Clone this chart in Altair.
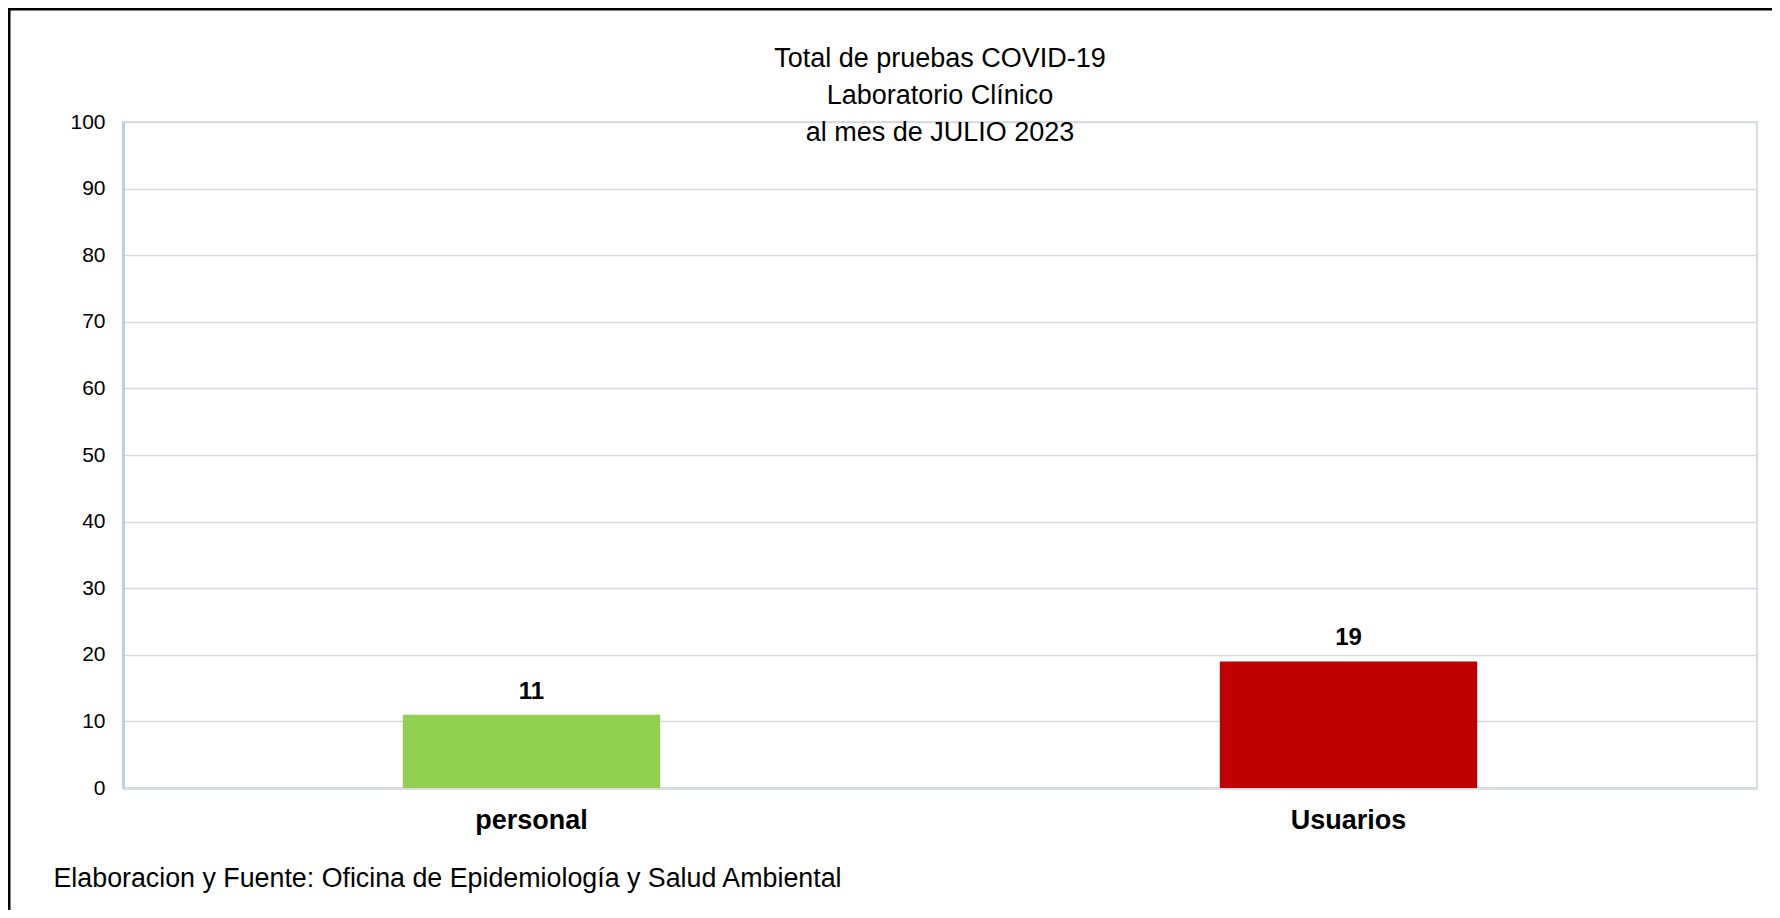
import altair as alt
import pandas as pd

categories = ["personal", "Usuarios"]
values = [11, 19]
colors = ["#92D050", "#C00000"]
y_ticks = [0, 10, 20, 30, 40, 50, 60, 70, 80, 90, 100]
title_lines = ["Total de pruebas COVID-19", "Laboratorio Clínico", "al mes de JULIO 2023"]
footer = "Elaboracion y Fuente: Oficina de Epidemiología y Salud Ambiental"

df = pd.DataFrame({"cat": categories, "val": values})

FONT = "Liberation Sans"
W, H = 1634, 666

x_enc = alt.X(
    "cat:N",
    sort=categories,
    scale=alt.Scale(paddingInner=0, paddingOuter=0),
    axis=alt.Axis(
        title=footer,
        titleFont=FONT, titleFontSize=26.8, titleFontWeight="normal", titleColor="#000000",
        titleAnchor="start", titleAlign="left", titleBaseline="alphabetic",
        titleX=-70, titleY=98,
        labelFont=FONT, labelFontSize=27, labelFontWeight="bold", labelColor="#000000",
        labelPadding=19, labelAngle=0, ticks=False,
        domainColor="#d9dce3", domainWidth=3, grid=False,
    ),
)
y_enc = alt.Y(
    "val:Q",
    scale=alt.Scale(domain=[0, 100], nice=False),
    axis=alt.Axis(
        title=None, values=y_ticks,
        labelFont=FONT, labelFontSize=21, labelColor="#000000", labelPadding=18,
        ticks=False, domainColor="#bccde7", domainWidth=3,
        gridColor="#d9d9d9", gridWidth=1.6,
    ),
)

bars = alt.Chart(df).mark_bar(width=alt.RelativeBandSize(0.315)).encode(
    x=x_enc,
    y=y_enc,
    color=alt.Color("cat:N", scale=alt.Scale(domain=categories, range=colors), legend=None),
)

labels = alt.Chart(df).mark_text(
    font=FONT, fontSize=24, fontWeight="bold", color="#000000",
    baseline="alphabetic", dy=-16,
).encode(
    x=alt.X("cat:N", sort=categories),
    y=alt.Y("val:Q"),
    text=alt.Text("val:Q"),
)

frame = alt.Chart(alt.Data(values=[{"f": 1}])).mark_rect(
    fill="#ffffff", fillOpacity=0, stroke="#000000", strokeWidth=3
).encode(
    x=alt.value(-114), x2=alt.value(W + 60),
    y=alt.value(-113), y2=alt.value(H + 250),
)

chart = alt.layer(bars, labels, frame).properties(
    width=W, height=H,
    title=alt.TitleParams(
        text=title_lines, font=FONT, fontSize=27, fontWeight="normal", color="#000000",
        lineHeight=37, anchor="middle", frame="group", offset=-139,
    ),
    autosize=alt.AutoSizeParams(type="none"),
    padding={"left": 115, "top": 114, "right": 15, "bottom": 122},
    background="#ffffff",
).configure_view(
    stroke="#d3deef", strokeWidth=2,
)

chart.save("out.html", embed_options={"renderer": "svg", "actions": False})
